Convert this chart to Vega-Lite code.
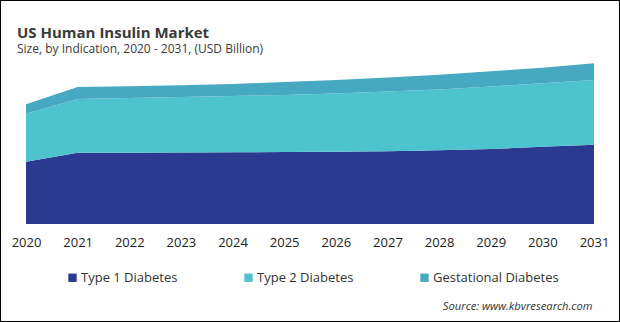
{
  "$schema": "https://vega.github.io/schema/vega-lite/v6.json",
  "width": 620,
  "height": 322,
  "autosize": {"type": "none"},
  "padding": 0,
  "background": "#ffffff",
  "config": {
    "view": {"stroke": "#000000", "strokeWidth": 2},
    "font": "Open Sans"
  },
  "title": {
    "text": "US Human Insulin Market",
    "subtitle": "Size, by Indication, 2020 - 2031, (USD Billion)",
    "anchor": "start",
    "frame": "group",
    "orient": "top",
    "offset": -55,
    "dx": 17,
    "fontSize": 15,
    "fontWeight": "bold",
    "color": "#3a3a3a",
    "subtitleFontSize": 12,
    "subtitleColor": "#3a3a3a",
    "subtitlePadding": 3
  },
  "data": {
    "values": [
      {"year": 2020, "Indication": "Type 1 Diabetes", "value": 0.623},
      {"year": 2021, "Indication": "Type 1 Diabetes", "value": 0.713},
      {"year": 2022, "Indication": "Type 1 Diabetes", "value": 0.713},
      {"year": 2023, "Indication": "Type 1 Diabetes", "value": 0.715},
      {"year": 2024, "Indication": "Type 1 Diabetes", "value": 0.717},
      {"year": 2025, "Indication": "Type 1 Diabetes", "value": 0.720},
      {"year": 2026, "Indication": "Type 1 Diabetes", "value": 0.722},
      {"year": 2027, "Indication": "Type 1 Diabetes", "value": 0.728},
      {"year": 2028, "Indication": "Type 1 Diabetes", "value": 0.737},
      {"year": 2029, "Indication": "Type 1 Diabetes", "value": 0.750},
      {"year": 2030, "Indication": "Type 1 Diabetes", "value": 0.772},
      {"year": 2031, "Indication": "Type 1 Diabetes", "value": 0.792},
      {"year": 2020, "Indication": "Type 2 Diabetes", "value": 0.480},
      {"year": 2021, "Indication": "Type 2 Diabetes", "value": 0.537},
      {"year": 2022, "Indication": "Type 2 Diabetes", "value": 0.547},
      {"year": 2023, "Indication": "Type 2 Diabetes", "value": 0.555},
      {"year": 2024, "Indication": "Type 2 Diabetes", "value": 0.563},
      {"year": 2025, "Indication": "Type 2 Diabetes", "value": 0.570},
      {"year": 2026, "Indication": "Type 2 Diabetes", "value": 0.583},
      {"year": 2027, "Indication": "Type 2 Diabetes", "value": 0.597},
      {"year": 2028, "Indication": "Type 2 Diabetes", "value": 0.608},
      {"year": 2029, "Indication": "Type 2 Diabetes", "value": 0.625},
      {"year": 2030, "Indication": "Type 2 Diabetes", "value": 0.635},
      {"year": 2031, "Indication": "Type 2 Diabetes", "value": 0.648},
      {"year": 2020, "Indication": "Gestational Diabetes", "value": 0.094},
      {"year": 2021, "Indication": "Gestational Diabetes", "value": 0.120},
      {"year": 2022, "Indication": "Gestational Diabetes", "value": 0.118},
      {"year": 2023, "Indication": "Gestational Diabetes", "value": 0.117},
      {"year": 2024, "Indication": "Gestational Diabetes", "value": 0.120},
      {"year": 2025, "Indication": "Gestational Diabetes", "value": 0.130},
      {"year": 2026, "Indication": "Gestational Diabetes", "value": 0.135},
      {"year": 2027, "Indication": "Gestational Diabetes", "value": 0.140},
      {"year": 2028, "Indication": "Gestational Diabetes", "value": 0.148},
      {"year": 2029, "Indication": "Gestational Diabetes", "value": 0.152},
      {"year": 2030, "Indication": "Gestational Diabetes", "value": 0.156},
      {"year": 2031, "Indication": "Gestational Diabetes", "value": 0.167}
    ]
  },
  "transform": [
    {
      "stack": "value",
      "groupby": ["year"],
      "sort": [{"field": "value", "order": "descending"}],
      "as": ["v0", "v1"]
    }
  ],
  "mark": {"type": "area", "interpolate": "linear", "clip": false},
  "encoding": {
    "x": {
      "field": "year",
      "type": "quantitative",
      "scale": {"domain": [2020, 2031], "range": [26, 594], "nice": false, "zero": false},
      "axis": {
        "orient": "bottom",
        "offset": -92,
        "values": [2020, 2021, 2022, 2023, 2024, 2025, 2026, 2027, 2028, 2029, 2030, 2031],
        "format": "d",
        "domain": false,
        "ticks": false,
        "grid": false,
        "labelFontSize": 13,
        "labelColor": "#222222",
        "labelPadding": 6,
        "labelFlush": false,
        "labelOverlap": false,
        "title": "Source: www.kbvresearch.com",
        "titleX": 592,
        "titleY": 79,
        "titleAlign": "right",
        "titleAnchor": null,
        "titleBaseline": "alphabetic",
        "titleFontStyle": "italic",
        "titleFontWeight": "normal",
        "titleFontSize": 11.2,
        "titleColor": "#333333"
      }
    },
    "y": {
      "field": "v1",
      "type": "quantitative",
      "scale": {"domain": [0, 1.64], "range": [224, 60], "nice": false},
      "axis": null
    },
    "y2": {"field": "v0"},
    "color": {
      "field": "Indication",
      "type": "nominal",
      "scale": {
        "domain": ["Type 1 Diabetes", "Type 2 Diabetes", "Gestational Diabetes"],
        "range": ["#2b3990", "#4dc3ce", "#47a9c1"]
      },
      "legend": {
        "title": null,
        "orient": "none",
        "legendX": 66,
        "legendY": 271,
        "padding": 0,
        "direction": "horizontal",
        "columns": 3,
        "gridAlign": "all",
        "columnPadding": 35,
        "symbolType": "square",
        "symbolSize": 70,
        "symbolStrokeWidth": 0,
        "symbolOpacity": 1,
        "labelFontSize": 13,
        "labelColor": "#333333",
        "labelOffset": 2
      }
    }
  }
}
